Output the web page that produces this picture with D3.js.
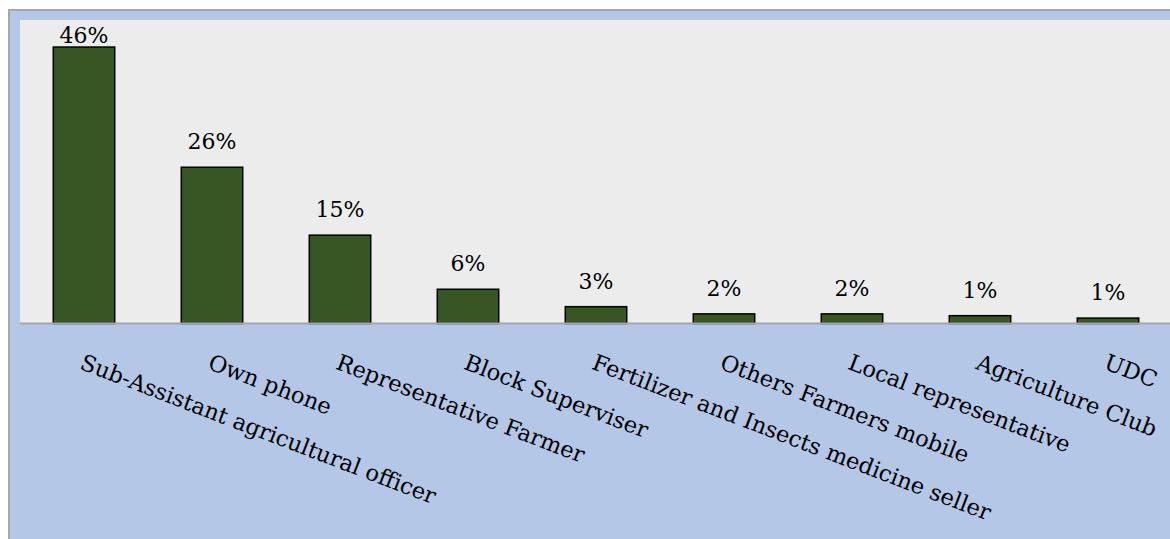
<!DOCTYPE html>
<html>
<head>
<meta charset="utf-8">
<script src="https://cdn.jsdelivr.net/npm/d3@7"></script>
<style>
  html, body { margin: 0; padding: 0; background: #ffffff; }
  svg { display: block; }
</style>
</head>
<body>
<svg id="chart" width="1170" height="539"></svg>
<script>
// Sources of agricultural information (share of respondents, %)
const categories = [
  "Sub-Assistant agricultural officer",
  "Own phone",
  "Representative Farmer",
  "Block Superviser",
  "Fertilizer and Insects medicine seller",
  "Others Farmers mobile",
  "Local representative",
  "Agriculture Club",
  "UDC"
];
const shares = [46, 26, 14.7, 5.7, 2.8, 1.6, 1.6, 1.3, 0.9];
const yDomain = [0, 50];

const W = 1170, H = 539;
const outer = { x: 9, y: 10 };
const plot = { left: 20, top: 20, right: 1172, bottom: 323.5 };
const FONT = "'DejaVu Serif', 'Liberation Serif', serif";

const svg = d3.select("#chart");

// chart area
svg.append("rect")
  .attr("x", outer.x).attr("y", outer.y)
  .attr("width", W - outer.x + 2).attr("height", H - outer.y + 2)
  .attr("fill", "#b4c7e7")
  .attr("stroke", "#a6a6a6").attr("stroke-width", 2);

// plot area
svg.append("rect")
  .attr("x", plot.left).attr("y", plot.top)
  .attr("width", plot.right - plot.left).attr("height", plot.bottom - plot.top)
  .attr("fill", "#ececec");

const x = d3.scaleBand()
  .domain(categories)
  .range([plot.left, plot.right])
  .paddingInner(0.52)
  .paddingOuter(0.26);

const y = d3.scaleLinear()
  .domain(yDomain)
  .range([plot.bottom, 23]);

const rows = categories.map((c, i) => ({ cat: c, v: shares[i] }));

// bars
svg.append("g")
  .selectAll("rect")
  .data(rows)
  .join("rect")
  .attr("x", d => x(d.cat))
  .attr("y", d => y(d.v))
  .attr("width", x.bandwidth())
  .attr("height", d => y(0) - y(d.v))
  .attr("fill", "#375623")
  .attr("stroke", "#000000")
  .attr("stroke-width", 1.5);

// value labels
const fmt = d3.format(".0f");
svg.append("g")
  .selectAll("text")
  .data(rows)
  .join("text")
  .attr("x", d => x(d.cat) + x.bandwidth() / 2)
  .attr("y", d => Math.max(y(d.v) - 18, 43))
  .attr("text-anchor", "middle")
  .attr("font-family", FONT)
  .attr("font-size", 22)
  .attr("fill", "#000000")
  .text(d => fmt(d.v) + "%");

// category axis
const axis = svg.append("g")
  .attr("transform", `translate(0,${plot.bottom})`)
  .call(d3.axisBottom(x).tickSize(0).tickPadding(0));

axis.select(".domain")
  .attr("stroke", "#a6a6a6")
  .attr("stroke-width", 2)
  .attr("d", `M${plot.left},0H${W + 2}`);

axis.selectAll(".tick text")
  .attr("font-family", FONT)
  .attr("font-size", 22.5)
  .attr("fill", "#000000")
  .attr("text-anchor", "start")
  .attr("x", 0).attr("y", 0)
  .attr("dy", "0.76em")
  .attr("transform", "translate(1,29) rotate(21)");
</script>
</body>
</html>
